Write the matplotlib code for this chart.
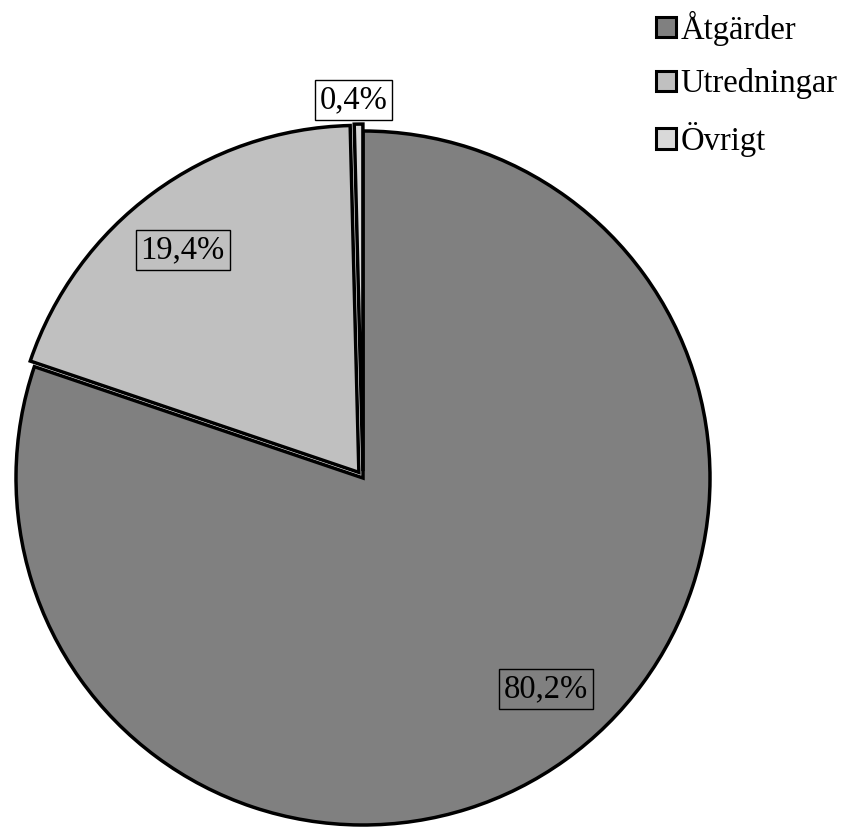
import matplotlib.pyplot as plt
from matplotlib.patches import Patch

plt.rcParams['font.family'] = ['Liberation Serif', 'DejaVu Serif']

# andelar per kategori
categories = ['Åtgärder', 'Utredningar', 'Övrigt']
shares = [80.2, 19.4, 0.4]
labels = ['80,2%', '19,4%', '0,4%']
colors = ['#808080', '#c0c0c0', '#d9d9d9']
explode = [0, 0.02, 0.02]

# etiketternas placering (enhetscirkel)
label_pos = [(0.527, -0.608), (-0.52, 0.657), (-0.027, 1.09)]

fig = plt.figure(figsize=(8.45, 8.31), dpi=100)
cx, cy, r = 363, 478, 347
ax = fig.add_axes([(cx - r) / 845, (831 - cy - r) / 831, 2 * r / 845, 2 * r / 831])

wedges, _ = ax.pie(shares, colors=colors, explode=explode, startangle=90,
                   counterclock=False, radius=1,
                   wedgeprops=dict(edgecolor='black', linewidth=2.5, joinstyle='miter'))
for w in wedges:
    w.set_clip_on(False)
ax.set_xlim(-1, 1)
ax.set_ylim(-1, 1)
ax.set_aspect('equal')
ax.axis('off')

for i, (txt, (x, y)) in enumerate(zip(labels, label_pos)):
    face = 'white' if i == 2 else 'none'
    ax.text(x, y, txt, ha='center', va='center', fontsize=23.5,
            bbox=dict(boxstyle='square,pad=0.15', facecolor=face,
                      edgecolor='black', linewidth=1.0), clip_on=False)

handles = [Patch(facecolor=c, edgecolor='black', linewidth=2.2) for c in colors]
fig.legend(handles, categories, loc='upper left', bbox_to_anchor=(640 / 845, 1.007),
           frameon=False, fontsize=23.5, handlelength=0.6, handleheight=0.6,
           handletextpad=0.15, labelspacing=0.7, borderaxespad=0.1)

fig.savefig('out.png', dpi=100)
